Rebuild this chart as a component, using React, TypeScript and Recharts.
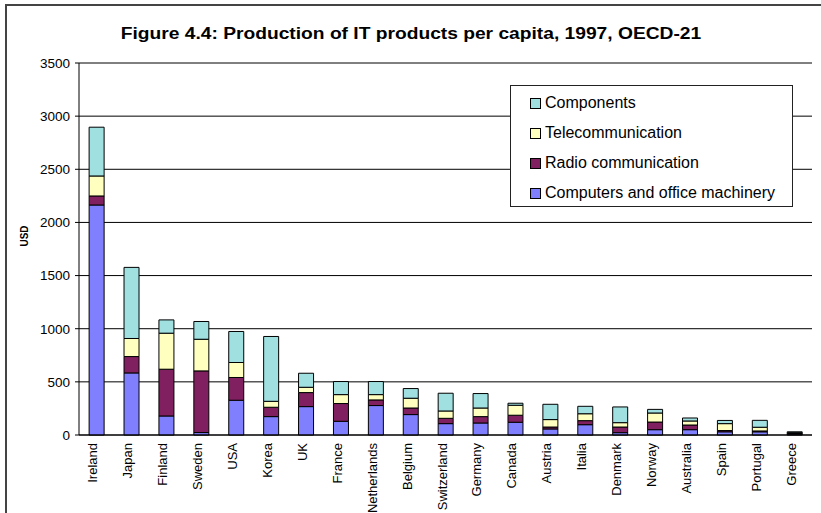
import React from 'react';
import { BarChart, Bar, XAxis, YAxis, CartesianGrid, Legend } from 'recharts';

// categories, left to right
const countries = [
  'Ireland', 'Japan', 'Finland', 'Sweden', 'USA', 'Korea', 'UK', 'France', 'Netherlands', 'Belgium',
  'Switzerland', 'Germany', 'Canada', 'Austria', 'Italia', 'Denmark', 'Norway', 'Australia', 'Spain',
  'Portugal', 'Greece',
];

// USD per capita
const computers = [2164, 584, 179, 23, 327, 173, 267, 129, 277, 192, 107, 113, 120, 57, 97, 22, 50, 50, 30, 30, 8];
const radio = [85, 154, 440, 580, 214, 88, 132, 167, 53, 62, 50, 60, 66, 18, 38, 53, 72, 44, 12, 8, 6];
const telecom = [188, 170, 339, 298, 141, 56, 50, 84, 50, 92, 69, 81, 94, 70, 65, 41, 85, 38, 65, 35, 8];
const components = [459, 669, 125, 167, 292, 610, 132, 123, 123, 91, 167, 136, 19, 144, 70, 148, 34, 28, 30, 65, 8];

const yTicks = [0, 500, 1000, 1500, 2000, 2500, 3000, 3500];
const separators = countries.map((_, i) => i).concat(countries.length);

// stacking order, bottom first
const series = [
  { key: 'computers', name: 'Computers and office machinery', color: '#8080FF' },
  { key: 'radio', name: 'Radio communication', color: '#802060' },
  { key: 'telecom', name: 'Telecommunication', color: '#FFFFC0' },
  { key: 'components', name: 'Components', color: '#A0E0E0' },
];

const chartData = countries.map((name, i) => ({
  name,
  computers: computers[i],
  radio: radio[i],
  telecom: telecom[i],
  components: components[i],
}));

const FONT = '"Liberation Sans", Arial, sans-serif';

const CountryTick = (props: any) => {
  const { x, y, payload } = props;
  const tx = x + 1;
  const ty = y + 8;
  return (
    <text
      x={tx}
      y={ty}
      transform={`rotate(-90, ${tx}, ${ty})`}
      textAnchor="end"
      fontSize={13}
      fontFamily={FONT}
      fill="#000"
    >
      {payload.value}
    </text>
  );
};

// legend lists the top segment first, like the original
const renderLegend = () => {
  const items = [...series].reverse();
  return (
    <div
      style={{
        width: 283,
        height: 122,
        boxSizing: 'border-box',
        border: '1px solid #222',
        background: '#fff',
        paddingTop: 2,
        fontFamily: FONT,
        fontSize: 16,
      }}
    >
      {items.map((s) => (
        <div key={s.key} style={{ display: 'flex', alignItems: 'center', height: 30, paddingLeft: 19 }}>
          <span
            style={{
              display: 'inline-block',
              width: 9,
              height: 9,
              background: s.color,
              border: '1px solid #000',
              marginRight: 4,
            }}
          />
          <span style={{ color: '#000' }}>{s.name}</span>
        </div>
      ))}
    </div>
  );
};

const App: React.FC = () => {
  return (
    <div style={{ position: 'absolute', left: 0, top: 0, width: 821, height: 513, background: '#fff', overflow: 'hidden' }}>
      <div
        style={{
          position: 'absolute',
          left: 5,
          top: 4,
          width: 840,
          height: 540,
          borderLeft: '2px solid #444',
          borderTop: '2px solid #444',
        }}
      />
      <div
        style={{
          position: 'absolute',
          left: 0,
          width: 822,
          top: 25,
          textAlign: 'center',
          fontFamily: FONT,
          fontWeight: 'bold',
          fontSize: 16,
          color: '#000',
          transform: 'scaleX(1.2)',
          transformOrigin: '411px 0',
        }}
      >
        Figure 4.4: Production of IT products per capita, 1997, OECD-21
      </div>
      <BarChart
        width={821}
        height={513}
        data={chartData}
        margin={{ top: 63, right: 9, bottom: 0, left: 39 }}
        barCategoryGap="29%"
      >
        <CartesianGrid horizontal vertical={false} stroke="#000" />
        <XAxis
          xAxisId="sep"
          type="number"
          domain={[0, countries.length]}
          ticks={separators}
          allowDataOverflow
          height={0}
          tick={false}
          tickSize={5}
          tickLine={{ stroke: '#000' }}
          axisLine={false}
        />
        <XAxis
          dataKey="name"
          interval={0}
          height={78}
          tickLine={false}
          tickSize={0}
          tickMargin={0}
          axisLine={{ stroke: '#000' }}
          tick={<CountryTick />}
        />
        <YAxis
          width={40}
          domain={[0, 3500]}
          ticks={yTicks}
          interval={0}
          tickSize={4}
          tickMargin={5}
          axisLine={{ stroke: '#000' }}
          tickLine={{ stroke: '#000' }}
          tick={{ fontSize: 13.5, fontFamily: FONT, fill: '#000' }}
          label={{
            content: () => (
              <text
                x={28}
                y={236}
                transform="rotate(-90, 28, 236)"
                textAnchor="middle"
                fontSize={10}
                fontWeight="bold"
                fontFamily={FONT}
                fill="#000"
              >
                USD
              </text>
            ),
          }}
        />
        <Legend
          layout="vertical"
          align="center"
          verticalAlign="middle"
          content={renderLegend}
          wrapperStyle={{ left: 510, top: 85, width: 283, height: 122 }}
        />
        {series.map((s) => (
          <Bar
            key={s.key}
            dataKey={s.key}
            stackId="a"
            name={s.name}
            fill={s.color}
            stroke="#000"
            strokeWidth={1}
            isAnimationActive={false}
          />
        ))}
      </BarChart>
    </div>
  );
};

export default App;
